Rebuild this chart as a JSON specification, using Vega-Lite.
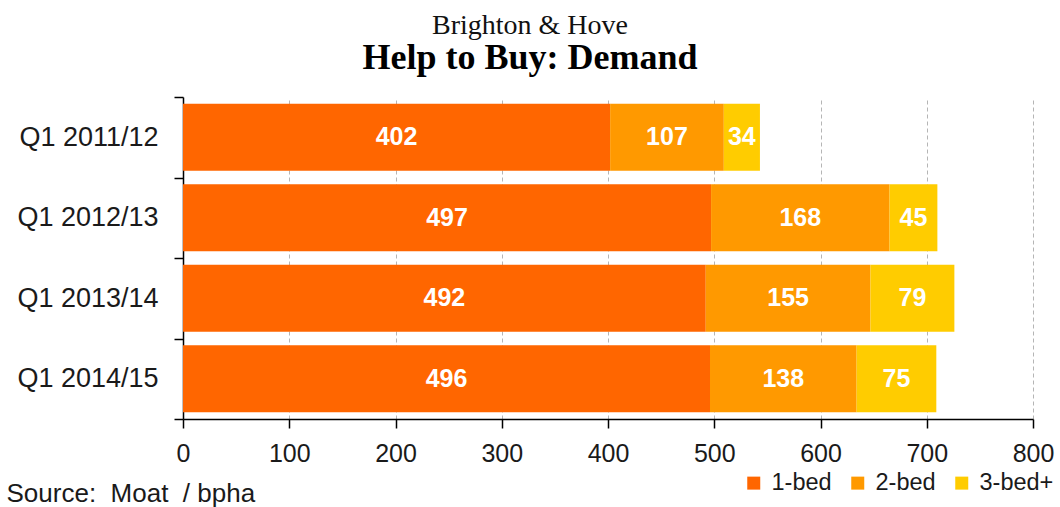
{
  "$schema": "https://vega.github.io/schema/vega-lite/v6.json",
  "width": 850,
  "height": 322,
  "autosize": {"type": "none"},
  "padding": {"left": 183, "top": 97, "right": 27, "bottom": 88},
  "background": "white",
  "view": {"stroke": null},
  "title": {
    "text": "Brighton & Hove",
    "subtitle": "Help to Buy: Demand",
    "anchor": "middle",
    "frame": "group",
    "dx": -78,
    "offset": 7,
    "font": "Liberation Serif",
    "fontSize": 28,
    "fontWeight": "normal",
    "color": "#111111",
    "subtitleFont": "Liberation Serif",
    "subtitleFontSize": 36,
    "subtitleFontWeight": "bold",
    "subtitleColor": "#000000",
    "subtitlePadding": 1
  },
  "data": {
    "values": [
      {"period": "Q1 2011/12", "type": "1-bed", "value": 402},
      {"period": "Q1 2011/12", "type": "2-bed", "value": 107},
      {"period": "Q1 2011/12", "type": "3-bed+", "value": 34},
      {"period": "Q1 2012/13", "type": "1-bed", "value": 497},
      {"period": "Q1 2012/13", "type": "2-bed", "value": 168},
      {"period": "Q1 2012/13", "type": "3-bed+", "value": 45},
      {"period": "Q1 2013/14", "type": "1-bed", "value": 492},
      {"period": "Q1 2013/14", "type": "2-bed", "value": 155},
      {"period": "Q1 2013/14", "type": "3-bed+", "value": 79},
      {"period": "Q1 2014/15", "type": "1-bed", "value": 496},
      {"period": "Q1 2014/15", "type": "2-bed", "value": 138},
      {"period": "Q1 2014/15", "type": "3-bed+", "value": 75}
    ]
  },
  "encoding": {
    "y": {
      "field": "period",
      "type": "nominal",
      "sort": null,
      "scale": {"paddingInner": 0, "paddingOuter": 0},
      "axis": {
        "title": null,
        "tickBand": "extent",
        "tickSize": 9,
        "tickColor": "#000000",
        "tickWidth": 1.5,
        "domainColor": "#000000",
        "domainWidth": 1.5,
        "labelFont": "Liberation Sans",
        "labelFontSize": 27,
        "labelColor": "#1a1a1a",
        "labelPadding": 16,
        "grid": false
      }
    }
  },
  "layer": [
    {
      "mark": {"type": "bar", "height": {"band": 0.83}},
      "encoding": {
        "x": {
          "field": "value",
          "type": "quantitative",
          "stack": "zero",
          "scale": {"domain": [0, 800], "nice": false},
          "axis": {
            "values": [0, 100, 200, 300, 400, 500, 600, 700, 800],
            "title": "Source:\u00a0 Moat\u00a0 / bpha",
            "titleFont": "Liberation Sans",
            "titleFontSize": 26,
            "titleFontWeight": "normal",
            "titleColor": "#1a1a1a",
            "titleAlign": "left",
            "titleAnchor": "start",
            "titleBaseline": "alphabetic",
            "titleX": -177,
            "titleY": 82,
            "tickSize": 9,
            "tickColor": "#000000",
            "tickWidth": 1.5,
            "domainColor": "#000000",
            "domainWidth": 1.5,
            "labelFont": "Liberation Sans",
            "labelFontSize": 25,
            "labelColor": "#1a1a1a",
            "labelPadding": 13,
            "labelFlush": false,
            "grid": true,
            "gridColor": "#b5b5b5",
            "gridDash": [4, 3],
            "gridWidth": 1
          }
        },
        "color": {
          "field": "type",
          "type": "nominal",
          "scale": {
            "domain": ["1-bed", "2-bed", "3-bed+"],
            "range": ["#FF6600", "#FF9900", "#FFCC00"]
          },
          "legend": {
            "title": null,
            "orient": "none",
            "direction": "horizontal",
            "legendX": 559,
            "legendY": 374,
            "symbolType": "square",
            "symbolSize": 169,
            "symbolStrokeWidth": 0,
            "labelFont": "Liberation Sans",
            "labelFontSize": 23.5,
            "labelColor": "#1a1a1a",
            "labelOffset": 6,
            "columnPadding": 14
          }
        },
        "order": {"field": "type", "sort": "ascending"}
      }
    },
    {
      "mark": {
        "type": "text",
        "color": "white",
        "font": "Liberation Sans",
        "fontSize": 25,
        "fontWeight": "bold",
        "baseline": "middle",
        "align": "center"
      },
      "encoding": {
        "x": {"field": "value", "type": "quantitative", "stack": "zero", "bandPosition": 0.5},
        "detail": {"field": "type", "type": "nominal"},
        "order": {"field": "type", "sort": "ascending"},
        "text": {"field": "value", "type": "quantitative"}
      }
    }
  ]
}
